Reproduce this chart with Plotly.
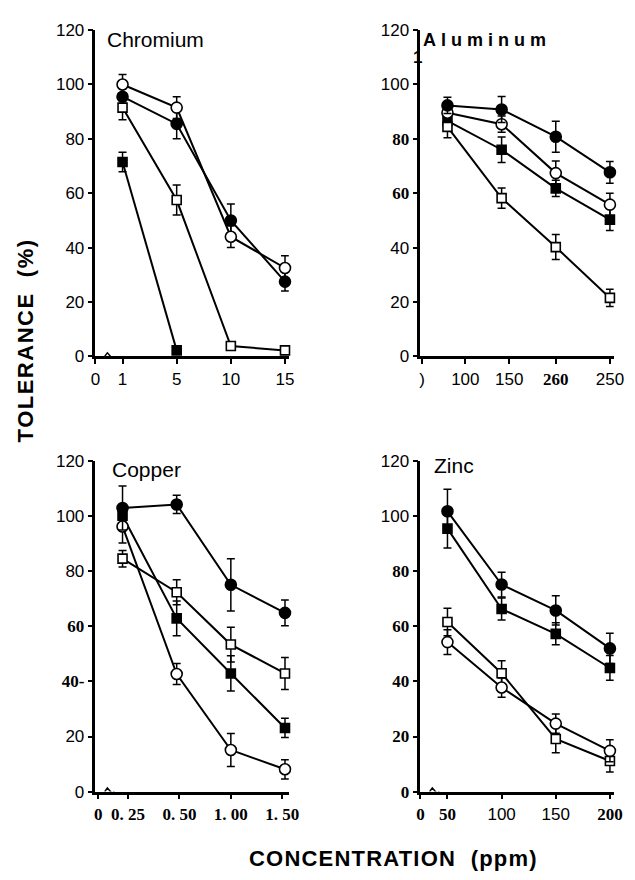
import plotly.graph_objects as go

# ---------------- data ----------------
# Chromium (ppm)
cr_tick_labels = ["0", "1", "5", "10", "15"]
cr_filled_circle = [95.5, 85.5, 50, 27.5]
cr_filled_circle_err = [3, 5.5, 6, 3.5]
cr_open_circle = [100, 91.5, 44, 32.5]
cr_open_circle_err = [3.7, 4, 4, 4.5]
cr_open_square = [91.5, 57.5, 3.8, 2.2]
cr_open_square_err = [4.5, 5.5, 0, 0]
cr_filled_square = [71.5, 2.2]
cr_filled_square_err = [3.6, 0]

# Aluminum (ppm)
al_tick_labels = [")", "100", "150", "260", "250"]
al_filled_circle = [92.3, 90.8, 80.8, 67.7]
al_filled_circle_err = [3, 4.8, 5.7, 4]
al_open_circle = [89.6, 85.4, 67.4, 55.8]
al_open_circle_err = [3, 3, 4.5, 4.2]
al_filled_square = [86.6, 76, 61.8, 50.3]
al_filled_square_err = [3, 4.7, 3, 4]
al_open_square = [84.4, 58.2, 40.2, 21.5]
al_open_square_err = [4, 3.7, 4.6, 3.2]

# Copper (ppm)
cu_tick_labels = ["0", "0. 25", "0. 50", "1. 00", "1. 50"]
cu_filled_circle = [103, 104.3, 75.1, 64.9]
cu_filled_circle_err = [8, 3.3, 9.5, 4.7]
cu_open_square = [84.6, 72.4, 53.4, 42.9]
cu_open_square_err = [3, 4.5, 6.3, 5.8]
cu_filled_square = [100.2, 62.9, 42.9, 23.1]
cu_filled_square_err = [3, 6.3, 6.4, 3.5]
cu_open_circle = [96.3, 42.7, 15.1, 8.1]
cu_open_circle_err = [6, 3.8, 6, 3.5]

# Zinc (ppm)
zn_tick_labels = ["0", "50", "100", "150", "200"]
zn_filled_circle = [101.8, 75.2, 65.8, 52]
zn_filled_circle_err = [8, 4.5, 5.3, 5.5]
zn_filled_square = [95.5, 66.3, 57.3, 44.9]
zn_filled_square_err = [7, 4, 4, 4.5]
zn_open_square = [61.6, 43, 19.1, 11.1]
zn_open_square_err = [5, 4.5, 5, 4]
zn_open_circle = [54.3, 37.8, 24.7, 14.8]
zn_open_circle_err = [4.5, 3.5, 3.5, 4]

y_tick_values = [0, 20, 40, 60, 80, 100, 120]

# ---------------- styling helpers ----------------
PAGE_MARGIN = 8                      # default body margin of the html page
W, H = 635 - 2 * PAGE_MARGIN, 880 - 2 * PAGE_MARGIN
SANS = "Liberation Sans, Arial, sans-serif"
SERIF_SPAN = '<span style="font-family:Liberation Serif;font-weight:bold">{}</span>'


def serif(t):
    return SERIF_SPAN.format(t)


STYLES = {
    "filled_circle": dict(symbol="circle", color="black", size=11),
    "open_circle": dict(symbol="circle", color="white", size=11),
    "filled_square": dict(symbol="square", color="black", size=9),
    "open_square": dict(symbol="square", color="white", size=9),
}


def px_x(p):
    return (p - PAGE_MARGIN) / W


def px_y(p):
    return 1 - (p - PAGE_MARGIN) / H


SLOT = 55.5          # pixels per concentration step
XMAX = 3.57
YMAX = 120
left_x0, right_x0 = 92.5, 425.5
dom_left = [px_x(left_x0), px_x(left_x0 + XMAX * SLOT)]
dom_right = [px_x(right_x0), px_x(right_x0 + XMAX * SLOT)]
dom_top = [px_y(355), px_y(355 - 120 * 2.78)]
dom_bot = [px_y(800), px_y(800 - 120 * 2.815)]

panels = [
    dict(series=[("filled_circle", cr_filled_circle, cr_filled_circle_err),
                 ("open_circle", cr_open_circle, cr_open_circle_err),
                 ("open_square", cr_open_square, cr_open_square_err),
                 ("filled_square", cr_filled_square, cr_filled_square_err)],
         ticktext=cr_tick_labels, tickpos=[0, 0.5, 1.5, 2.5, 3.5],
         xdom=dom_left, ydom=dom_top, brk=True,
         ylabels=["0", "20", "40", "60", "80", "100", "120"]),
    dict(series=[("filled_square", al_filled_square, al_filled_square_err),
                 ("open_square", al_open_square, al_open_square_err),
                 ("open_circle", al_open_circle, al_open_circle_err),
                 ("filled_circle", al_filled_circle, al_filled_circle_err)],
         ticktext=[al_tick_labels[0], al_tick_labels[1], al_tick_labels[2],
                   serif(al_tick_labels[3]), al_tick_labels[4]],
         tickpos=[0.03, 0.83, 1.64, 2.5, 3.5],
         xdom=dom_right, ydom=dom_top, brk=False,
         ylabels=["0", "20", "40", serif("60"), serif("80"), "100", "120"]),
    dict(series=[("filled_square", cu_filled_square, cu_filled_square_err),
                 ("open_square", cu_open_square, cu_open_square_err),
                 ("open_circle", cu_open_circle, cu_open_circle_err),
                 ("filled_circle", cu_filled_circle, cu_filled_circle_err)],
         ticktext=[serif(t) for t in cu_tick_labels], tickpos=[0.05, 0.6, 1.55, 2.5, 3.45],
         xdom=dom_left, ydom=dom_bot, brk=True,
         ylabels=["0", "20", serif("40-"), serif("60"), "80", "100", "120"]),
    dict(series=[("filled_square", zn_filled_square, zn_filled_square_err),
                 ("filled_circle", zn_filled_circle, zn_filled_circle_err),
                 ("open_square", zn_open_square, zn_open_square_err),
                 ("open_circle", zn_open_circle, zn_open_circle_err)],
         ticktext=[serif(zn_tick_labels[0]), serif(zn_tick_labels[1]), zn_tick_labels[2],
                   zn_tick_labels[3], serif(zn_tick_labels[4])],
         tickpos=[0, 0.5, 1.5, 2.5, 3.5],
         xdom=dom_right, ydom=dom_bot, brk=True,
         ylabels=[serif("0"), serif("20"), serif("40"), serif("60"), serif("80"), "100", "120"]),
]

fig = go.Figure()
shapes = []
axes_layout = {}
for i, p in enumerate(panels, start=1):
    xa = "x" if i == 1 else f"x{i}"
    ya = "y" if i == 1 else f"y{i}"
    for kind, vals, errs in p["series"]:
        st = STYLES[kind]
        xs = [k + 0.5 for k in range(len(vals))]
        fig.add_trace(go.Scatter(
            x=xs, y=vals, xaxis=xa, yaxis=ya, mode="lines+markers",
            line=dict(color="black", width=2),
            marker=dict(symbol=st["symbol"], size=st["size"], color=st["color"],
                        line=dict(color="black", width=1.6)),
            error_y=dict(type="data", array=errs, visible=True, color="black",
                         thickness=1.5, width=4),
            cliponaxis=False, hoverinfo="skip"))
    axes_layout["xaxis" if i == 1 else f"xaxis{i}"] = dict(
        domain=p["xdom"], range=[0, XMAX], anchor=ya, showline=True,
        linecolor="#000000", linewidth=2.5, layer="above traces",
        ticks="outside", ticklen=5,
        tickwidth=2, tickcolor="#000000", tickvals=p["tickpos"], tickangle=0,
        ticktext=p["ticktext"], showgrid=False, zeroline=False,
        tickfont=dict(family=SANS, size=17, color="black"))
    axes_layout["yaxis" if i == 1 else f"yaxis{i}"] = dict(
        domain=p["ydom"], range=[0, YMAX], anchor=xa, showline=True,
        linecolor="#000000", linewidth=2.5, layer="above traces",
        ticks="outside", ticklen=5,
        tickwidth=2, tickcolor="#000000", tickvals=y_tick_values,
        ticktext=p["ylabels"], showgrid=False, zeroline=False,
        tickfont=dict(family=SANS, size=17, color="black"))
    if p["brk"]:
        shapes.append(dict(type="path", xref=xa, yref=ya,
                           path="M 0.17,0 L 0.22,1.3 L 0.31,-0.7 L 0.35,0",
                           line=dict(color="black", width=1.5)))

ann = []


def label(text, x, y, size, bold=False, xanchor="left", family=SANS, angle=0, spacing=0):
    t = text
    if spacing:
        t = f'<span style="letter-spacing:{spacing}px">{t}</span>'
    if bold:
        t = f"<b>{t}</b>"
    ann.append(dict(text=t, x=px_x(x), y=px_y(y), xref="paper", yref="paper",
                    xanchor=xanchor, yanchor="middle", showarrow=False,
                    textangle=angle, font=dict(family=family, size=size, color="black")))


label("Chromium", 102, 31, 21)
label("Aluminum", 426, 32, 18, bold=True, spacing=5)
label("1", 423, 49, 17, bold=True, xanchor="center")
label("Copper", 107, 471, 21)
label("Zinc", 437, 467, 21)
label("TOLERANCE  (%)", 21, 339, 22, bold=True, xanchor="center", angle=-90, spacing=1.5)
label("CONCENTRATION  (ppm)", 398, 868, 22, bold=True, xanchor="center", spacing=1.2)

fig.update_layout(width=W, height=H, margin=dict(l=0, r=0, t=0, b=0),
                  plot_bgcolor="white", paper_bgcolor="white", showlegend=False,
                  annotations=ann, shapes=shapes, **axes_layout)

fig.write_html("out.html")
